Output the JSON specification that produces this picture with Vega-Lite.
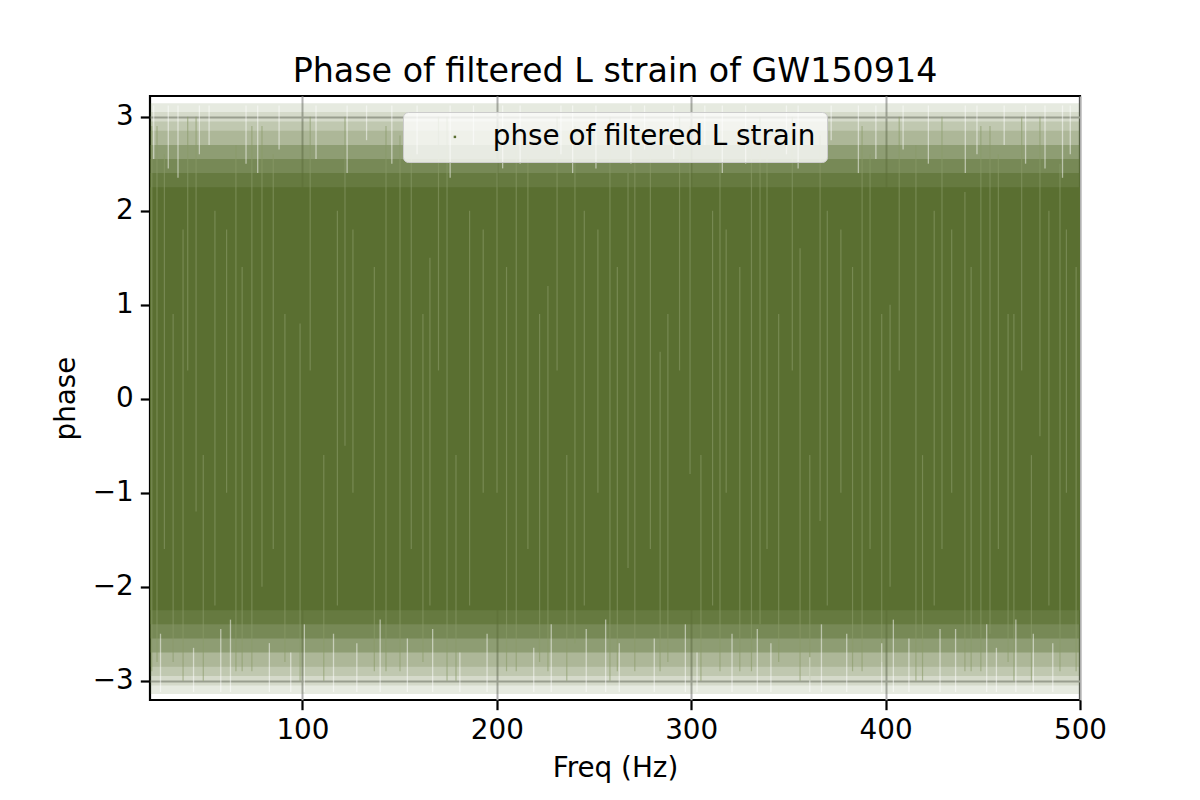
{
  "$schema": "https://vega.github.io/schema/vega-lite/v6.json",
  "autosize": "none",
  "width": 930,
  "height": 604,
  "padding": {"left": 150, "top": 96, "right": 120, "bottom": 100},
  "background": "white",
  "title": {
    "text": "Phase of filtered L strain of GW150914",
    "font": "DejaVu Sans",
    "fontSize": 33.3,
    "fontWeight": "normal",
    "color": "black",
    "anchor": "middle",
    "frame": "group",
    "baseline": "alphabetic",
    "offset": -19
  },
  "datasets": {
    "bands": [
      {"p0": -3.1416, "p1": 3.1416, "d": 0.15},
      {"p0": -3.05, "p1": 3.05, "d": 0.12},
      {"p0": -2.95, "p1": 2.95, "d": 0.17},
      {"p0": -2.85, "p1": 2.85, "d": 0.19},
      {"p0": -2.7, "p1": 2.7, "d": 0.36},
      {"p0": -2.55, "p1": 2.55, "d": 0.44},
      {"p0": -2.4, "p1": 2.4, "d": 0.56},
      {"p0": -2.25, "p1": 2.25, "d": 1}
    ],
    "streaks": [
      {"f": 22.5, "p0": -2.9, "p1": 2.9},
      {"f": 25.2, "p0": -2.8, "p1": 2.9},
      {"f": 29, "p0": -1.6, "p1": 2.6},
      {"f": 33.5, "p0": -2.8, "p1": 0.9},
      {"f": 38.6, "p0": -3.0, "p1": 1.8},
      {"f": 41, "p0": 0.3, "p1": 3.0},
      {"f": 45.3, "p0": -1.2, "p1": 3.0},
      {"f": 49, "p0": -3.0, "p1": -0.6},
      {"f": 55, "p0": -2.2, "p1": 2.0},
      {"f": 61, "p0": -1.0, "p1": 1.8},
      {"f": 65.8, "p0": -2.9, "p1": 2.7},
      {"f": 69, "p0": -2.9, "p1": 1.4},
      {"f": 74, "p0": -2.9, "p1": 2.9},
      {"f": 79.2, "p0": -2.0, "p1": 2.9},
      {"f": 85, "p0": -1.6, "p1": 2.6},
      {"f": 91, "p0": -2.8, "p1": 0.9},
      {"f": 98.8, "p0": -3.0, "p1": 0.8},
      {"f": 104, "p0": 0.3, "p1": 3.0},
      {"f": 111, "p0": -3.0, "p1": -0.6},
      {"f": 118, "p0": -2.2, "p1": 2.0},
      {"f": 121.9, "p0": -0.5, "p1": 3.0},
      {"f": 126, "p0": -1.0, "p1": 1.8},
      {"f": 137, "p0": -2.9, "p1": 1.4},
      {"f": 143, "p0": -2.9, "p1": 2.9},
      {"f": 150.2, "p0": -2.9, "p1": 2.8},
      {"f": 156, "p0": -1.6, "p1": 2.6},
      {"f": 162, "p0": -2.8, "p1": 0.9},
      {"f": 165.6, "p0": -2.2, "p1": 1.5},
      {"f": 170, "p0": 0.3, "p1": 3.0},
      {"f": 174.4, "p0": -3.0, "p1": 3.0},
      {"f": 179, "p0": -3.0, "p1": -0.6},
      {"f": 186, "p0": -2.2, "p1": 2.0},
      {"f": 193, "p0": -1.0, "p1": 1.8},
      {"f": 200.1, "p0": -1.0, "p1": 2.9},
      {"f": 205, "p0": -2.9, "p1": 1.4},
      {"f": 210, "p0": -2.9, "p1": 2.9},
      {"f": 216, "p0": -1.6, "p1": 2.6},
      {"f": 222, "p0": -2.8, "p1": 0.9},
      {"f": 226.3, "p0": -2.9, "p1": 1.2},
      {"f": 231, "p0": 0.3, "p1": 3.0},
      {"f": 236, "p0": -3.0, "p1": -0.6},
      {"f": 240.2, "p0": -2.6, "p1": 2.9},
      {"f": 245, "p0": -2.2, "p1": 2.0},
      {"f": 252, "p0": -1.0, "p1": 1.8},
      {"f": 258.2, "p0": -3.0, "p1": 3.0},
      {"f": 262, "p0": -2.9, "p1": 1.4},
      {"f": 267.5, "p0": -1.8, "p1": 2.4},
      {"f": 271, "p0": -2.9, "p1": 2.9},
      {"f": 279, "p0": -1.6, "p1": 2.6},
      {"f": 284.0, "p0": -2.9, "p1": 0.5},
      {"f": 288, "p0": -2.8, "p1": 0.9},
      {"f": 294, "p0": 0.3, "p1": 3.0},
      {"f": 299.4, "p0": -0.8, "p1": 2.9},
      {"f": 305, "p0": -3.0, "p1": -0.6},
      {"f": 311, "p0": -2.2, "p1": 2.0},
      {"f": 314.8, "p0": -2.9, "p1": 2.6},
      {"f": 318, "p0": -1.0, "p1": 1.8},
      {"f": 325, "p0": -2.9, "p1": 1.4},
      {"f": 331, "p0": -2.9, "p1": 2.9},
      {"f": 335.4, "p0": -2.4, "p1": 3.0},
      {"f": 339, "p0": -1.6, "p1": 2.6},
      {"f": 345, "p0": -2.8, "p1": 0.9},
      {"f": 352, "p0": 0.3, "p1": 3.0},
      {"f": 356.0, "p0": -3.0, "p1": 1.6},
      {"f": 361, "p0": -3.0, "p1": -0.6},
      {"f": 366.3, "p0": -1.3, "p1": 2.8},
      {"f": 370, "p0": -2.2, "p1": 2.0},
      {"f": 377, "p0": -1.0, "p1": 1.8},
      {"f": 383, "p0": -2.9, "p1": 1.4},
      {"f": 387.9, "p0": -2.9, "p1": 2.9},
      {"f": 392, "p0": -1.6, "p1": 2.6},
      {"f": 398, "p0": -2.8, "p1": 0.9},
      {"f": 402.3, "p0": -2.0, "p1": 1.0},
      {"f": 407, "p0": 0.3, "p1": 3.0},
      {"f": 415.6, "p0": -3.0, "p1": 2.7},
      {"f": 419, "p0": -3.0, "p1": -0.6},
      {"f": 425, "p0": -2.2, "p1": 2.0},
      {"f": 429.0, "p0": -1.6, "p1": 3.0},
      {"f": 434, "p0": -1.0, "p1": 1.8},
      {"f": 440.8, "p0": -2.9, "p1": 2.2},
      {"f": 444, "p0": -2.9, "p1": 1.4},
      {"f": 449, "p0": -2.9, "p1": 2.9},
      {"f": 453.7, "p0": -2.5, "p1": 2.9},
      {"f": 458, "p0": -1.6, "p1": 2.6},
      {"f": 463, "p0": -2.8, "p1": 0.9},
      {"f": 466.0, "p0": -3.0, "p1": 0.9},
      {"f": 470, "p0": 0.3, "p1": 3.0},
      {"f": 475, "p0": -3.0, "p1": -0.6},
      {"f": 479.4, "p0": -0.4, "p1": 3.0},
      {"f": 484, "p0": -2.2, "p1": 2.0},
      {"f": 489.7, "p0": -2.9, "p1": 2.5},
      {"f": 493, "p0": -1.0, "p1": 1.8},
      {"f": 498, "p0": -2.9, "p1": 1.4}
    ],
    "gaps": [
      {"f": 23.5, "p0": 2.55, "p1": 3.12},
      {"f": 27, "p0": -3.12, "p1": -2.5},
      {"f": 31, "p0": 2.45, "p1": 3.12},
      {"f": 36, "p0": 2.35, "p1": 3.12},
      {"f": 44, "p0": -3.12, "p1": -2.65},
      {"f": 47, "p0": 2.6, "p1": 3.12},
      {"f": 52, "p0": 2.7, "p1": 3.12},
      {"f": 58, "p0": -3.12, "p1": -2.45},
      {"f": 63, "p0": -3.12, "p1": -2.35},
      {"f": 71, "p0": 2.5, "p1": 3.12},
      {"f": 77, "p0": 2.4, "p1": 3.12},
      {"f": 83, "p0": -3.12, "p1": -2.6},
      {"f": 88, "p0": 2.65, "p1": 3.12},
      {"f": 94, "p0": -3.12, "p1": -2.7},
      {"f": 101, "p0": -3.12, "p1": -2.4},
      {"f": 107, "p0": 2.55, "p1": 3.12},
      {"f": 116, "p0": -3.12, "p1": -2.5},
      {"f": 123, "p0": 2.4, "p1": 3.12},
      {"f": 128, "p0": -3.12, "p1": -2.6},
      {"f": 133, "p0": 2.75, "p1": 3.12},
      {"f": 140, "p0": -3.12, "p1": -2.35},
      {"f": 146, "p0": 2.5, "p1": 3.12},
      {"f": 154, "p0": -3.12, "p1": -2.55},
      {"f": 159, "p0": 2.6, "p1": 3.12},
      {"f": 167, "p0": -3.12, "p1": -2.45},
      {"f": 176, "p0": 2.35, "p1": 3.12},
      {"f": 181, "p0": -3.12, "p1": -2.7},
      {"f": 188, "p0": 2.7, "p1": 3.12},
      {"f": 195, "p0": -3.12, "p1": -2.5},
      {"f": 203, "p0": 2.45, "p1": 3.12},
      {"f": 212, "p0": 2.5, "p1": 3.12},
      {"f": 219, "p0": -3.12, "p1": -2.65},
      {"f": 228, "p0": -3.12, "p1": -2.4},
      {"f": 233, "p0": 2.6, "p1": 3.12},
      {"f": 239, "p0": 2.4, "p1": 3.12},
      {"f": 246, "p0": -3.12, "p1": -2.45},
      {"f": 251, "p0": 2.45, "p1": 3.12},
      {"f": 256, "p0": -3.12, "p1": -2.35},
      {"f": 263, "p0": -3.12, "p1": -2.6},
      {"f": 269, "p0": 2.5, "p1": 3.12},
      {"f": 276, "p0": 2.65, "p1": 3.12},
      {"f": 281, "p0": -3.12, "p1": -2.55},
      {"f": 291, "p0": 2.55, "p1": 3.12},
      {"f": 297, "p0": -3.12, "p1": -2.4},
      {"f": 303, "p0": -3.12, "p1": -2.7},
      {"f": 307, "p0": 2.7, "p1": 3.12},
      {"f": 316, "p0": 2.4, "p1": 3.12},
      {"f": 321, "p0": -3.12, "p1": -2.5},
      {"f": 328, "p0": 2.5, "p1": 3.12},
      {"f": 334, "p0": -3.12, "p1": -2.45},
      {"f": 341, "p0": -3.12, "p1": -2.6},
      {"f": 349, "p0": 2.6, "p1": 3.12},
      {"f": 355, "p0": 2.45, "p1": 3.12},
      {"f": 361, "p0": -3.12, "p1": -2.75},
      {"f": 367, "p0": -3.12, "p1": -2.4},
      {"f": 372, "p0": 2.75, "p1": 3.12},
      {"f": 380, "p0": -3.12, "p1": -2.5},
      {"f": 386, "p0": 2.4, "p1": 3.12},
      {"f": 395, "p0": 2.55, "p1": 3.12},
      {"f": 398, "p0": -3.12, "p1": -2.6},
      {"f": 404, "p0": -3.12, "p1": -2.35},
      {"f": 409, "p0": 2.65, "p1": 3.12},
      {"f": 412, "p0": -3.12, "p1": -2.55},
      {"f": 422, "p0": 2.5, "p1": 3.12},
      {"f": 428, "p0": -3.12, "p1": -2.45},
      {"f": 436, "p0": -3.12, "p1": -2.45},
      {"f": 441, "p0": 2.4, "p1": 3.12},
      {"f": 447, "p0": 2.6, "p1": 3.12},
      {"f": 452, "p0": -3.12, "p1": -2.4},
      {"f": 457, "p0": -3.12, "p1": -2.65},
      {"f": 461, "p0": 2.7, "p1": 3.12},
      {"f": 467, "p0": -3.12, "p1": -2.35},
      {"f": 472, "p0": 2.5, "p1": 3.12},
      {"f": 476, "p0": -3.12, "p1": -2.5},
      {"f": 482, "p0": 2.45, "p1": 3.12},
      {"f": 486, "p0": -3.12, "p1": -2.6},
      {"f": 491, "p0": 2.35, "p1": 3.12},
      {"f": 495, "p0": 2.6, "p1": 3.12}
    ]
  },
  "layer": [
    {
      "data": {"name": "bands"},
      "mark": {"type": "rect", "clip": true},
      "encoding": {
        "x": {"datum": 20, "type": "quantitative"},
        "x2": {"datum": 500},
        "y": {"field": "p0", "type": "quantitative"},
        "y2": {"field": "p1"},
        "color": {
          "datum": "phse of filtered L strain",
          "type": "nominal",
          "scale": {"range": ["#5a6f31"]},
          "legend": {"title": null, "labelLimit": 600}
        },
        "opacity": {"field": "d", "type": "quantitative", "scale": null}
      }
    },
    {
      "data": {"name": "streaks"},
      "mark": {"type": "rule", "color": "#8a9b69", "strokeWidth": 1.2, "opacity": 0.6, "clip": true},
      "encoding": {
        "x": {
          "field": "f",
          "type": "quantitative",
          "title": "Freq (Hz)",
          "scale": {"domain": [21.6, 500], "nice": false, "zero": false},
          "axis": {"values": [100, 200, 300, 400, 500], "format": "d", "labelFlush": false, "titlePadding": 10}
        },
        "y": {
          "field": "p0",
          "type": "quantitative",
          "title": "phase",
          "scale": {"domain": [-3.205, 3.22], "nice": false, "zero": false},
          "axis": {"values": [-3, -2, -1, 0, 1, 2, 3], "format": "d", "titlePadding": 12}
        },
        "y2": {"field": "p1"}
      }
    },
    {
      "data": {"name": "gaps"},
      "mark": {"type": "rule", "color": "white", "strokeWidth": 1.3, "opacity": 0.5, "clip": true},
      "encoding": {
        "x": {"field": "f", "type": "quantitative"},
        "y": {"field": "p0", "type": "quantitative"},
        "y2": {"field": "p1"}
      }
    }
  ],
  "config": {
    "view": {"stroke": "black", "strokeWidth": 2.2},
    "axis": {
      "domain": false,
      "grid": true,
      "gridColor": "#b0b0b0",
      "gridWidth": 2,
      "ticks": true,
      "tickColor": "black",
      "tickSize": 9.7,
      "tickWidth": 2.2,
      "labelPadding": 7,
      "labelFont": "DejaVu Sans",
      "labelFontSize": 27.8,
      "labelColor": "black",
      "labelOverlap": false,
      "titleFont": "DejaVu Sans",
      "titleFontSize": 27.8,
      "titleFontWeight": "normal",
      "titleColor": "black"
    },
    "legend": {
      "orient": "none",
      "legendX": 253,
      "legendY": 16,
      "labelFont": "DejaVu Sans",
      "labelFontSize": 27.8,
      "labelColor": "black",
      "symbolType": "square",
      "symbolSize": 6,
      "symbolStrokeWidth": 0,
      "symbolOffset": 27,
      "labelOffset": 24,
      "padding": 11,
      "fillColor": "rgba(255,255,255,0.8)",
      "strokeColor": "#cccccc",
      "cornerRadius": 5
    }
  }
}
